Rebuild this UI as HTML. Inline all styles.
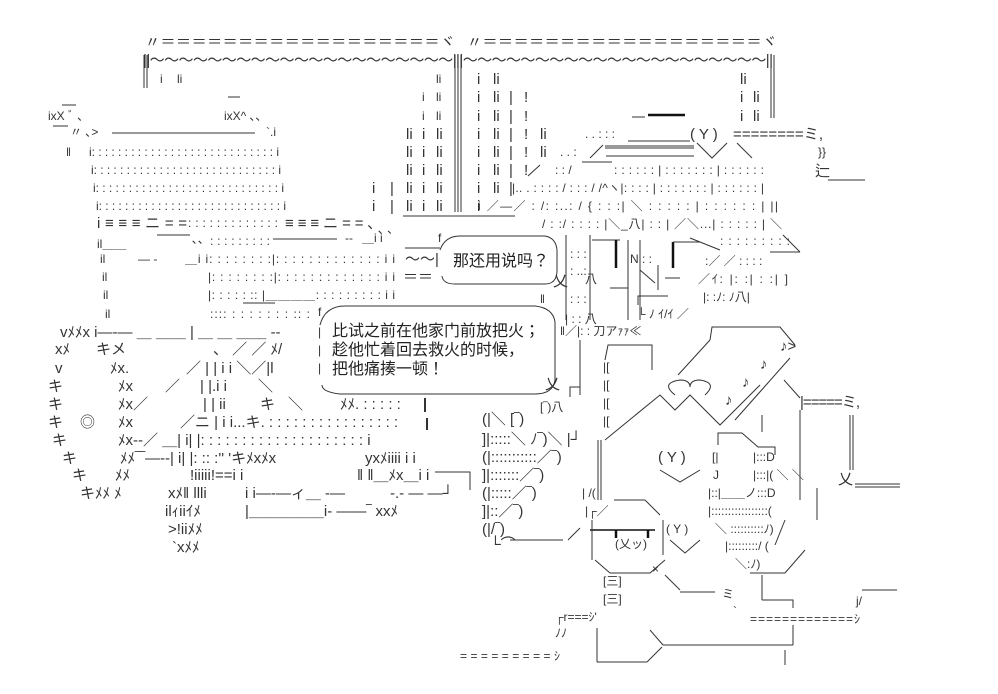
<!DOCTYPE html>
<html><head><meta charset="utf-8"><style>
html,body{margin:0;padding:0;background:#fff;}
svg{display:block}
text{font-family:"Liberation Sans","Noto Sans CJK JP",sans-serif;fill:#333;dominant-baseline:middle;font-size:15px}
.s{font-size:12px}
.b{font-size:16px;fill:#222}
line,path,polyline{stroke:#333;stroke-width:1;fill:none}
.k{stroke-width:2.5;stroke:#111}
</style></head><body>
<svg width="998" height="694" viewBox="0 0 998 694" xmlns="http://www.w3.org/2000/svg">
<!-- top frame -->
<text x="145" y="43" textLength="310" lengthAdjust="spacing">〃＝＝＝＝＝＝＝＝＝＝＝＝＝＝＝＝＝＝ヾ</text>
<text x="467" y="43" textLength="310" lengthAdjust="spacing">〃＝＝＝＝＝＝＝＝＝＝＝＝＝＝＝＝＝＝ヾ</text>
<text x="143" y="61" textLength="630" lengthAdjust="spacing">||～～～～～～～～～～～～～～～～～～～～～|||～～～～～～～～～～～～～～～～～～～～～||</text>
<line x1="144" y1="55" x2="144" y2="88"/><line x1="147" y1="55" x2="147" y2="88"/>
<text x="160" y="80" class="s">i</text><text x="177" y="80" class="s">li</text>
<line x1="455" y1="55" x2="455" y2="212"/><line x1="458" y1="55" x2="458" y2="212"/><line x1="461" y1="55" x2="461" y2="212"/>
<line x1="771" y1="55" x2="771" y2="118"/><line x1="774" y1="55" x2="774" y2="118"/>
<!-- columns left of ||| -->
<text x="436" y="80" class="s">li</text>
<text x="422" y="98" class="s">i</text><text x="436" y="98" class="s">li</text>
<text x="422" y="117" class="s">i</text><text x="436" y="117" class="s">li</text>
<g class="s">
<text x="406" y="135">li</text><text x="422" y="135">i</text><text x="436" y="135">li</text>
<text x="406" y="153">li</text><text x="422" y="153">i</text><text x="436" y="153">li</text>
<text x="406" y="171">li</text><text x="422" y="171">i</text><text x="436" y="171">li</text>
<text x="372" y="189">i</text><text x="390" y="189">|</text><text x="406" y="189">li</text><text x="422" y="189">i</text><text x="436" y="189">li</text>
<text x="372" y="207">i</text><text x="390" y="207">|</text><text x="406" y="207">li</text><text x="422" y="207">i</text><text x="436" y="207">li</text>
</g>
<line x1="403" y1="216" x2="515" y2="216"/>
<!-- right of ||| -->
<g class="s">
<text x="477" y="80">i</text><text x="493" y="80">li</text>
<text x="477" y="98">i</text><text x="493" y="98">li</text><text x="509" y="98">|</text><text x="524" y="98">!</text>
<text x="477" y="117">i</text><text x="493" y="117">li</text><text x="509" y="117">|</text><text x="524" y="117">!</text>
<text x="477" y="135">i</text><text x="493" y="135">li</text><text x="509" y="135">|</text><text x="524" y="135">!</text><text x="540" y="135">li</text>
<text x="477" y="153">i</text><text x="493" y="153">li</text><text x="509" y="153">|</text><text x="524" y="153">!</text><text x="540" y="153">li</text>
<text x="477" y="171">i</text><text x="493" y="171">li</text><text x="509" y="171">|</text><text x="524" y="171">!</text>
<text x="477" y="189">i</text><text x="493" y="189">li</text><text x="509" y="189">|</text>
<text x="477" y="207">i</text>
<text x="740" y="80">li</text>
<text x="740" y="98">i</text><text x="753" y="98">li</text>
<text x="740" y="117">i</text><text x="753" y="117">li</text>
</g>
<!-- left dog -->
<line x1="62" y1="105" x2="76" y2="105"/>
<text x="48" y="117" class="s">ixX ﾞ ､</text>
<line x1="53" y1="126" x2="68" y2="126"/>
<text x="70" y="133" class="s">〃 ､&gt;</text>
<line x1="112" y1="133" x2="255" y2="133"/>
<text x="266" y="133" class="s">`.i</text>
<text x="66" y="153" class="s">‖</text>
<line x1="228" y1="97" x2="240" y2="97"/>
<text x="224" y="117" class="s">ixX^ ､､</text>
<text x="89" y="153" class="s" textLength="190" lengthAdjust="spacing">i: : : : : : : : : : : : : : : : : : : : : : : : : : : : i</text>
<text x="91" y="171" class="s" textLength="190" lengthAdjust="spacing">i: : : : : : : : : : : : : : : : : : : : : : : : : : : : i</text>
<text x="93" y="189" class="s" textLength="191" lengthAdjust="spacing">i: : : : : : : : : : : : : : : : : : : : : : : : : : : : i</text>
<text x="96" y="207" class="s" textLength="190" lengthAdjust="spacing">i: : : : : : : : : : : : : : : : : : : : : : : : : : : : i</text>
<text x="97" y="224" textLength="90" lengthAdjust="spacing">i≡≡≡ニ==</text>
<text x="188" y="224" class="s" textLength="90" lengthAdjust="spacing">: : : : : : : : : : : : :</text>
<text x="285" y="224" textLength="90" lengthAdjust="spacing">≡≡≡ニ==､</text>
<text x="378" y="230" class="s">､ ､</text>
<!-- right upper body -->
<line x1="632" y1="117" x2="645" y2="117"/><line x1="648" y1="115" x2="685" y2="115" class="k"/>
<text x="585" y="135" class="s">. . : : :</text>
<line x1="628" y1="141" x2="690" y2="141"/>
<text x="690" y="135">( Y )</text>
<text x="733" y="135" textLength="90" lengthAdjust="spacing">========ミ,</text>
<line x1="603" y1="145" x2="590" y2="158"/>
<line x1="605" y1="146" x2="694" y2="146"/><line x1="605" y1="148" x2="694" y2="148"/>
<line x1="606" y1="156" x2="694" y2="156"/>
<polyline points="697,143 712,158 727,143"/>
<line x1="737" y1="143" x2="752" y2="158"/>
<text x="560" y="153" class="s">. . :</text>
<text x="818" y="153" class="s">}}</text>
<text x="815" y="172">辷</text><line x1="828" y1="180" x2="865" y2="180"/>
<line x1="540" y1="165" x2="528" y2="176"/>
<text x="555" y="171" class="s">: : /</text>
<line x1="582" y1="162" x2="612" y2="162"/>
<text x="614" y="171" class="s" textLength="150" lengthAdjust="spacing">: : : : : : | : : : : : : : | : : : : : :</text>
<text x="512" y="189" class="s" textLength="252" lengthAdjust="spacing">|.. . : : : : / : : : /  /^ヽ|: : : : | : : : : : : : | : : : : : : |</text>
<text x="478" y="207" class="s" textLength="300" lengthAdjust="spacing">i  ／—／ : /: :..: /    { : : :| ＼ : : : : : | : : : : : : | ||</text>
<text x="542" y="225" class="s" textLength="240" lengthAdjust="spacing">/ : :/ : : : : |＼_八| : : | ／＼...| : : : : : | ＼</text>
<!-- mid rows -->
<line x1="157" y1="235" x2="190" y2="235"/><text x="192" y="240" class="s">､､</text>
<text x="210" y="242" class="s" textLength="60" lengthAdjust="spacing">: : : : : : : : :</text>
<line x1="273" y1="239" x2="337" y2="239"/><text x="345" y="239" class="s">--</text>
<text x="362" y="239" class="s">＿i i</text>
<line x1="405" y1="248" x2="440" y2="248"/><text x="438" y="239" class="s">f</text>
<text x="97" y="245" class="s">il＿＿</text>
<text x="100" y="260" class="s">il</text><text x="138" y="260" class="s">—  -</text>
<text x="185" y="260" class="s" textLength="210" lengthAdjust="spacing">＿i i: : : : : : : :|: : : : : : : : : : : : : i i</text>
<text x="405" y="260">～～|</text>
<text x="102" y="278" class="s">il</text>
<text x="208" y="278" class="s" textLength="187" lengthAdjust="spacing">|: : : : : : : :|: : : : : : : : : : : : : i i</text>
<text x="403" y="278">＝＝</text>
<text x="103" y="296" class="s">il</text>
<text x="208" y="296" class="s" textLength="187" lengthAdjust="spacing">|: : : : : :: |＿＿＿＿: : : : : : : : : i i</text>
<line x1="243" y1="303" x2="275" y2="303"/>
<text x="105" y="315" class="s">il</text>
<text x="210" y="315" class="s" textLength="100" lengthAdjust="spacing">:::: : : : : : : : :: :</text>
<text x="318" y="313" class="s">f</text>
<!-- bubble 1 -->
<path d="M440,250 Q445,236 460,236 L545,236 Q556,238 557,250 L557,272 Q556,284 545,284 L455,284 Q443,284 442,276"/>
<text x="453" y="262" class="b">那还用说吗？</text>
<text x="553" y="282">乂</text>
<!-- bubble 2 -->
<path d="M320,325 Q325,306 345,306 L535,306 Q553,308 555,322 L555,380 Q553,394 535,394 L340,394 Q322,392 322,385"/>
<text x="318" y="333" class="s">|</text><text x="318" y="351" class="s">|</text><text x="318" y="369" class="s">|</text>
<text x="332" y="332" class="b">比试之前在他家门前放把火；</text>
<text x="332" y="351" class="b">趁他忙着回去救火的时候，</text>
<text x="332" y="370" class="b">把他痛揍一顿！</text>
<text x="545" y="385">乂</text>
<text x="540" y="300" class="s">‖</text>
<!-- right middle -->
<line x1="566" y1="235" x2="566" y2="320"/><line x1="590" y1="235" x2="590" y2="320"/>
<text x="570" y="255" class="s">: : :</text><text x="570" y="272" class="s">: ..:</text><text x="570" y="300" class="s">: : :</text>
<polyline points="592,240 620,240"/><line x1="616" y1="240" x2="616" y2="268" class="k"/>
<text x="630" y="260" class="s">N : :</text>
<line x1="628" y1="240" x2="628" y2="320"/><line x1="640" y1="240" x2="640" y2="320"/>
<line x1="673" y1="242" x2="673" y2="268" class="k"/><line x1="673" y1="242" x2="700" y2="242"/>
<text x="585" y="280" class="s">八</text><line x1="610" y1="288" x2="628" y2="288"/>
<line x1="640" y1="270" x2="655" y2="283"/><line x1="658" y1="265" x2="658" y2="290"/><line x1="665" y1="278" x2="680" y2="278"/>
<line x1="690" y1="238" x2="720" y2="250"/>
<text x="720" y="242" class="s" textLength="70" lengthAdjust="spacing">: : : : : : : : :</text>
<line x1="783" y1="235" x2="800" y2="252"/><line x1="770" y1="252" x2="800" y2="252"/>
<text x="705" y="262" class="s">:／  ／   : : : :</text>
<text x="698" y="280" class="s" textLength="90" lengthAdjust="spacing">／ｲ: |: :| : :|   ]</text>
<text x="703" y="298" class="s">|: :ﾉ: ﾉ八|</text>
<polyline points="638,305 638,296 668,296"/><text x="637" y="315" class="s">└    ﾉ  ｲ/ｲ  ／</text>
<text x="565" y="320" class="s">| : : 八</text>
<text x="560" y="332" class="s">‖／|: : 刀アｧｧ≪</text>
<polyline points="710,340 712,327 780,327 795,345"/>
<line x1="710" y1="340" x2="678" y2="375"/>
<line x1="580" y1="340" x2="580" y2="395"/>
<polyline points="605,360 608,345 652,345 652,370"/>
<text x="603" y="368" class="s">|[</text><text x="603" y="386" class="s">|[</text><text x="603" y="404" class="s">|[</text><text x="603" y="422" class="s">|[</text>
<text x="780" y="347">♪&gt;</text><text x="760" y="365">♪</text><text x="742" y="383">♪</text><text x="725" y="401">♪</text>
<line x1="790" y1="358" x2="735" y2="420"/>
<path d="M675,395 Q660,383 680,380 Q690,380 690,387 Q690,380 700,380 Q718,383 705,395"/>
<polyline points="605,440 660,395 675,410 690,395 720,425 760,385"/>
<line x1="784" y1="380" x2="800" y2="398"/>
<polyline points="570,397 570,387 580,387"/>
<text x="540" y="408" class="s">[‾)八</text>
<text x="800" y="403" textLength="60" lengthAdjust="spacing">|=====ミ,</text>
<line x1="800" y1="410" x2="800" y2="500"/><line x1="762" y1="415" x2="762" y2="432"/>
<line x1="850" y1="415" x2="850" y2="470"/><line x1="853" y1="415" x2="853" y2="470"/>
<text x="838" y="480">乂</text><line x1="855" y1="484" x2="900" y2="484"/><line x1="855" y1="487" x2="900" y2="487"/>
<!-- left part of right figure -->
<g class="s">
<text x="482" y="420">(|＼     [‾)</text>
<text x="482" y="440">]|:::::＼  ﾉ‾)＼  |┘</text>
<text x="482" y="458">(|:::::::::::／‾)</text>
<text x="482" y="476">]|:::::::／‾)</text>
<text x="482" y="494">(|:::::／‾)</text>
<text x="482" y="512">]|::／‾)</text>
<text x="482" y="530">(|/‾)</text>
<text x="490" y="545">└⌒</text>
</g>
<line x1="510" y1="540" x2="563" y2="540"/><line x1="568" y1="540" x2="580" y2="528"/>
<line x1="598" y1="440" x2="598" y2="500"/><line x1="601" y1="440" x2="601" y2="500"/>
<polyline points="718,445 718,433 742,433 758,447 775,447 775,455"/>
<text x="658" y="458">( Y )</text><polyline points="660,470 680,482 700,470"/>
<text x="712" y="458" class="s">[|</text><text x="713" y="476" class="s">J</text>
<text x="753" y="458" class="s">|:::D</text><text x="753" y="476" class="s">|:::|(  ＼  ＼</text>
<text x="582" y="494" class="s">| /(</text><line x1="614" y1="500" x2="645" y2="500"/><line x1="645" y1="500" x2="660" y2="515"/>
<text x="708" y="494" class="s">|::|＿＿ノ:::D</text>
<line x1="817" y1="488" x2="817" y2="520"/>
<text x="585" y="512" class="s">|┌／</text>
<text x="708" y="512" class="s">|:::::::::::::::::(</text>
<line x1="590" y1="530" x2="655" y2="530" class="k" style="stroke-width:1.5"/>
<line x1="616" y1="530" x2="616" y2="538" class="k"/><line x1="648" y1="530" x2="648" y2="538" class="k"/>
<line x1="592" y1="520" x2="592" y2="560"/><line x1="663" y1="520" x2="663" y2="555"/>
<text x="666" y="530" class="s">( Y )</text><polyline points="670,540 685,553 700,540"/>
<text x="715" y="530" class="s">＼ ::::::::::ﾉ)</text>
<text x="615" y="545" class="s">(乂ッ)</text>
<text x="725" y="547" class="s">|:::::::::/ (</text>
<line x1="785" y1="520" x2="775" y2="545"/>
<polyline points="595,560 610,573 650,573 665,560"/>
<text x="652" y="570" class="s">×</text>
<text x="735" y="565" class="s">＼:ﾉ)</text>
<polyline points="750,573 785,573 805,550"/>
<line x1="762" y1="575" x2="762" y2="600"/>
<text x="603" y="582" class="s">[三]</text>
<line x1="665" y1="575" x2="680" y2="590"/><line x1="680" y1="592" x2="715" y2="592"/><text x="722" y="595" class="s">ミ</text>
<text x="603" y="600" class="s">[三]</text>
<polyline points="762,600 793,600 793,608"/>
<line x1="862" y1="590" x2="897" y2="590"/><text x="856" y="602" class="s">j/</text>
<text x="555" y="618" class="s">┌r===ｼ'</text>
<text x="733" y="612" class="s">`</text>
<text x="750" y="620" class="s" textLength="110" lengthAdjust="spacing">=============ｼ</text>
<text x="555" y="634" class="s">ﾉﾉ</text>
<line x1="597" y1="628" x2="597" y2="662"/><line x1="597" y1="662" x2="647" y2="662"/><line x1="647" y1="662" x2="662" y2="647"/>
<line x1="650" y1="630" x2="663" y2="645"/><line x1="663" y1="645" x2="793" y2="645"/>
<line x1="793" y1="625" x2="793" y2="645"/><line x1="785" y1="650" x2="785" y2="665"/>
<text x="460" y="657" class="s" textLength="100" lengthAdjust="spacing">=========ｼ</text>
<!-- left lower dog -->
<g class="s">
<text x="60" y="333">vﾒﾒx i—-—  ＿  ＿＿ |  ＿  ＿  ＿＿  --</text>
<text x="55" y="350">xﾒ</text><text x="96" y="350">キメ</text>
<text x="213" y="350">、  ／  ／  ﾒ/</text>
<text x="55" y="369">v</text><text x="110" y="369">ﾒx.</text><text x="186" y="369">／ | | i i ＼／|l</text>
<text x="48" y="387">キ</text><text x="118" y="387">ﾒx</text><text x="165" y="387">／</text><text x="200" y="387">| |.i i</text><text x="258" y="387">＼</text>
<text x="48" y="405">キ</text><text x="118" y="405">ﾒx／</text><text x="203" y="405">| |  ii</text><text x="260" y="405">キ</text><text x="288" y="405">＼</text>
<text x="340" y="405">ﾒﾒ. : : : : :</text><text x="48" y="423">キ</text><text x="118" y="423">ﾒx</text>
<text x="180" y="423">／ニ |  i i...キ.  : : : : : : : : : : : : : : : :</text>
<text x="52" y="441">キ</text><text x="118" y="441">ﾒx--／ ＿|  i|   |: : : : : : : : : : : : : : : : : : : : i</text>
<text x="62" y="459">キ</text><text x="120" y="459">ﾒﾒ‾‾—--|  i|   |: :: :'' 'キﾒxﾒx</text><text x="365" y="459">yxﾒiiii   i i</text>
<text x="72" y="476">キ</text><text x="115" y="476">ﾒﾒ</text><text x="190" y="476">!iiiii!==i i</text><text x="357" y="476">‖ ‖＿ﾒx＿i i</text>
<text x="80" y="494">キﾒﾒ ﾒ</text><text x="168" y="494">xﾒ‖ llli</text><text x="245" y="494">i i—-—ィ＿  -—</text><text x="390" y="494">-.-  —  —┘</text>
<text x="165" y="512">ilｨiiｲﾒ</text><text x="245" y="512">|＿＿＿＿＿i-  ——‾   xxﾒ</text>
<text x="168" y="530">&gt;!iiﾒﾒ</text>
<text x="172" y="548">`xﾒﾒ</text>
</g>
<text x="80" y="423">◎</text>
<line x1="425" y1="398" x2="425" y2="412" style="stroke-width:2"/>
<line x1="427" y1="418" x2="427" y2="430" style="stroke-width:2"/>
<polyline points="435,472 470,472 470,490"/>
</svg>
</body></html>
